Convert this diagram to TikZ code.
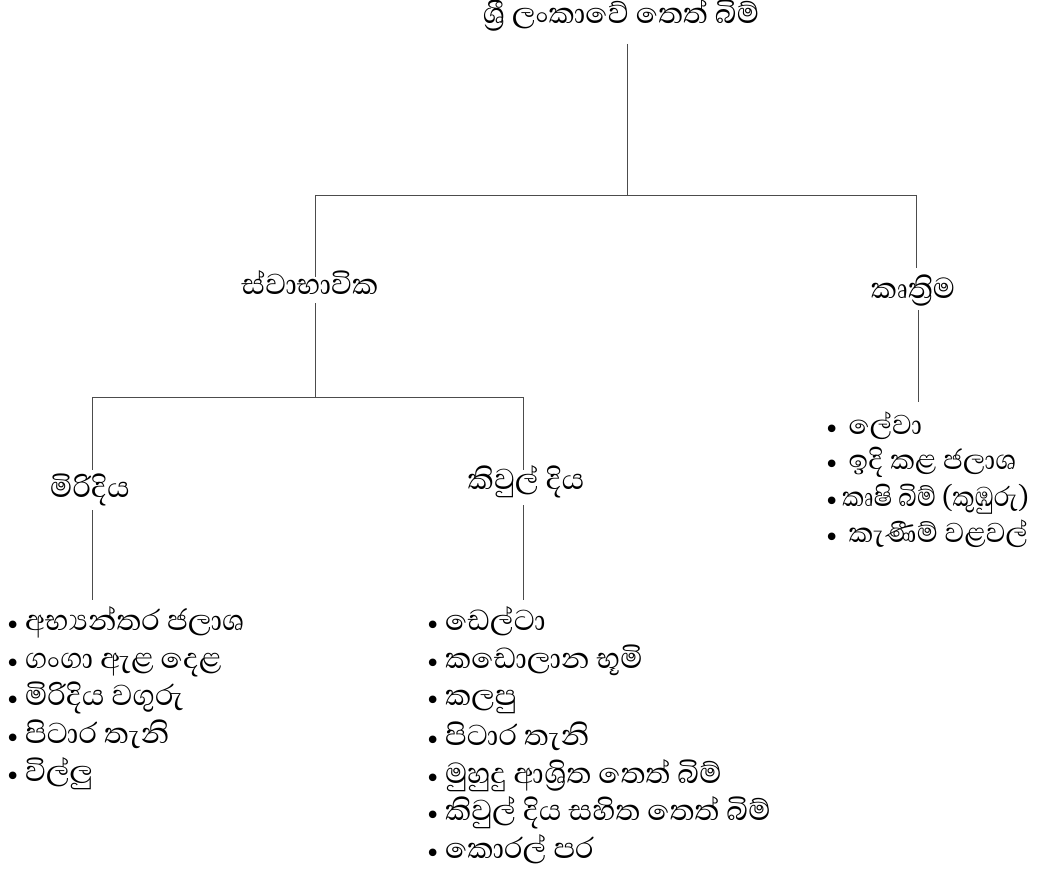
\documentclass[tikz,border=0pt]{standalone}
\usepackage{graphicx}
\usepackage{fontspec}
\newfontfamily\sinhfont[Script=Sinhala]{Abhaya Libre}
\newfontfamily\bulfont{DejaVu Sans}
\begin{document}
\begin{tikzpicture}[x=1pt,y=-1pt,
  lbl/.style={inner sep=0pt,font=\sinhfont\fontsize{37}{40}\selectfont},
  item/.style={inner sep=0pt,anchor=base west,font=\sinhfont\fontsize{37}{40}\selectfont},
  ritem/.style={inner sep=0pt,anchor=base west,font=\sinhfont\fontsize{35}{38}\selectfont},
  conn/.style={draw=black!70,line width=0.9pt}]
\useasboundingbox (0,0) rectangle (1044,869);
\newcommand{\mybul}[1][4.5pt]{{\bulfont\fontsize{26}{28}\selectfont\raisebox{-4pt}{•}}\hspace{#1}}
% headings
\node[lbl] (title) at (621,15) {ශ්^^^^200dරී ලංකාවේ තෙත් බිම්};
\node[lbl] (nat) at (310,283) {ස්වාභාවික};
\node[lbl] (art) at (913,291) {කෘත්^^^^200dරිම};
\node[lbl] (fresh) at (90,490) {මිරිදිය};
\node[lbl] (brack) at (526,482) {කිවුල් දිය};
% junction coordinates
\coordinate (t0) at (627,44);
\coordinate (t1) at (627,195);
\coordinate (hL) at (315,195);
\coordinate (hR) at (916,195);
\coordinate (natIn) at (315,277);
\coordinate (artIn) at (916,268);
\coordinate (natOut) at (315,303);
\coordinate (n1) at (315,397);
\coordinate (gL) at (92,397);
\coordinate (gR) at (523,397);
\coordinate (freshIn) at (92,470);
\coordinate (brackIn) at (523,470);
\coordinate (artOut) at (918,310);
\coordinate (artEnd) at (918,402);
\coordinate (freshOut) at (92,510);
\coordinate (freshEnd) at (92,600);
\coordinate (brackOut) at (523,505);
\coordinate (brackEnd) at (523,600);
% connectors
\draw[conn] (t0) -- (t1);
\draw[conn] (hL) -- (hR);
\draw[conn] (hL) -- (natIn);
\draw[conn] (hR) -- (artIn);
\draw[conn] (natOut) -- (n1);
\draw[conn] (gL) -- (gR);
\draw[conn] (gL) -- (freshIn);
\draw[conn] (gR) -- (brackIn);
\draw[conn] (artOut) -- (artEnd);
\draw[conn] (freshOut) -- (freshEnd);
\draw[conn] (brackOut) -- (brackEnd);
% left list
\node[item] (f1) at (5,630) {\mybul අභ්^^^^200dයන්තර ජලාශ};
\node[item] (f2) at (5,668) {\mybul ගංගා ඇළ දෙළ};
\node[item] (f3) at (5,705) {\mybul මිරිදිය වගුරු};
\node[item] (f4) at (5,743) {\mybul පිටාර තැනි};
\node[item] (f5) at (5,781) {\mybul විල්ලු};
% middle list
\node[item] (b1) at (425,630) {\mybul ඩෙල්ටා};
\node[item] (b2) at (425,668) {\mybul කඩොලාන භූමි};
\node[item] (b3) at (425,705) {\mybul කලපු};
\node[item] (b4) at (425,745) {\mybul පිටාර තැනි};
\node[item] (b5) at (425,783) {\mybul මුහුදු ආශ්^^^^200dරිත තෙත් බිම්};
\node[item] (b6) at (425,820) {\mybul කිවුල් දිය සහිත තෙත් බිම්};
\node[item] (b7) at (425,858) {\mybul කොරල් පර};
% right list
\node[ritem] (a1) at (824,434) {\mybul[2.5pt] ලේවා};
\node[ritem] (a2) at (824,469) {\mybul[2.5pt] ඉදි කළ ජලාශ};
\node[ritem] (a3) at (824,506) {\mybul[2.5pt]\scalebox{0.9}[1]{කෘෂි බිම් (කුඹුරු)}};
\node[ritem] (a4) at (824,542) {\mybul[2.5pt] කැණීම් වළවල්};
\end{tikzpicture}
\end{document}
